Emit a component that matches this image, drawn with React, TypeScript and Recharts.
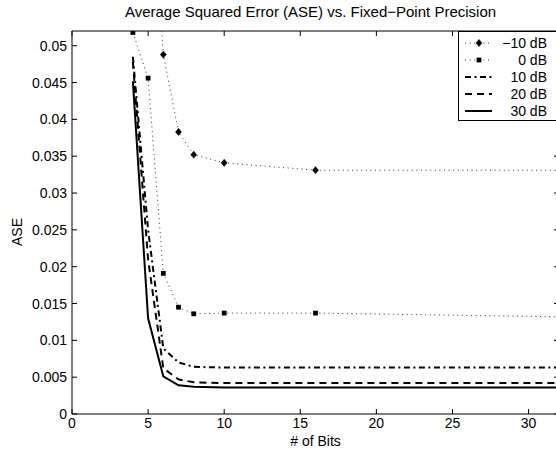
import React from 'react';
import { LineChart, Line, XAxis, YAxis, ReferenceLine } from 'recharts';

// ---- data ----
const bits = [4, 5, 6, 7, 8, 10, 16, 32];
const aseMinus10dB = [0.15, 0.078, 0.0488, 0.0383, 0.0352, 0.0341, 0.0331, 0.0331];
const ase0dB = [0.0518, 0.0456, 0.0191, 0.0145, 0.0136, 0.0137, 0.0137, 0.0132];
const ase10dB = [0.0485, 0.025, 0.0089, 0.007, 0.0064, 0.0063, 0.0063, 0.0063];
const ase20dB = [0.0478, 0.021, 0.0062, 0.0047, 0.0043, 0.0042, 0.0042, 0.0042];
const ase30dB = [0.0452, 0.013, 0.0051, 0.0039, 0.0037, 0.0036, 0.0036, 0.0036];
const seriesNames = ['\u221210 dB', '0 dB', '10 dB', '20 dB', '30 dB'];
const xTicks = [0, 5, 10, 15, 20, 25, 30];
const yTicks = [0, 0.005, 0.01, 0.015, 0.02, 0.025, 0.03, 0.035, 0.04, 0.045, 0.05];
const xDomain = [0, 32];
const yDomain = [0, 0.052];
const titleText = 'Average Squared Error (ASE) vs. Fixed\u2212Point Precision';
const xLabelText = '# of Bits';
const yLabelText = 'ASE';

const data = bits.map((b, i) => ({
  bits: b,
  s0: aseMinus10dB[i],
  s1: ase0dB[i],
  s2: ase10dB[i],
  s3: ase20dB[i],
  s4: ase30dB[i],
}));

// ---- layout ----
const FONT = '"Liberation Sans", Arial, Helvetica, sans-serif';
const FS = 14;
const CHART_W = 562;
const CHART_H = 450;
const PLOT_LEFT = 72;
const PLOT_RIGHT = 559;
const PLOT_TOP = 31;
const PLOT_BOTTOM = 414;
const TICK_LEN = 5;

const Diamond = (props: any) => {
  const { cx, cy, key } = props;
  if (cx == null || cy == null) return <g key={key} />;
  return (
    <path
      key={key}
      d={`M${cx},${cy - 3.6} L${cx + 3},${cy} L${cx},${cy + 3.6} L${cx - 3},${cy} Z`}
      fill="#000"
      stroke="#000"
      strokeWidth={0.5}
    />
  );
};

const Square = (props: any) => {
  const { cx, cy, key } = props;
  if (cx == null || cy == null) return <g key={key} />;
  return <rect key={key} x={cx - 2.4} y={cy - 2.4} width={4.8} height={4.8} fill="#000" />;
};

const XTick = (props: any) => {
  const { x, payload } = props;
  return (
    <g>
      <line x1={x} x2={x} y1={PLOT_BOTTOM} y2={PLOT_BOTTOM - TICK_LEN} stroke="#000" strokeWidth={1} />
      <line x1={x} x2={x} y1={PLOT_TOP} y2={PLOT_TOP + TICK_LEN} stroke="#000" strokeWidth={1} />
      <text x={x} y={PLOT_BOTTOM + 14} textAnchor="middle" fontFamily={FONT} fontSize={FS} fill="#000">
        {payload.value}
      </text>
    </g>
  );
};

const YTick = (props: any) => {
  const { y, payload } = props;
  return (
    <g>
      <line x1={PLOT_LEFT} x2={PLOT_LEFT + TICK_LEN} y1={y} y2={y} stroke="#000" strokeWidth={1} />
      <line x1={PLOT_RIGHT - TICK_LEN} x2={PLOT_RIGHT} y1={y} y2={y} stroke="#000" strokeWidth={1} />
      <text x={PLOT_LEFT - 5} y={y + 5} textAnchor="end" fontFamily={FONT} fontSize={FS} fill="#000">
        {String(payload.value)}
      </text>
    </g>
  );
};

const seriesStyles = [
  { key: 's0', stroke: '#333', width: 1, dash: '1 3.6', dot: 'diamond' },
  { key: 's1', stroke: '#333', width: 1, dash: '1 3.6', dot: 'square' },
  { key: 's2', stroke: '#000', width: 2, dash: '6 3.5 2 3.5', dot: null },
  { key: 's3', stroke: '#000', width: 2, dash: '7 5', dot: null },
  { key: 's4', stroke: '#000', width: 2, dash: undefined, dot: null },
];

const LEG_LEFT = 458;
const LEG_TOP = 31;

const LegendBox = () => {
  const rowY = [43, 60, 77, 94, 111];
  return (
    <svg
      width={110}
      height={92}
      style={{ position: 'absolute', left: LEG_LEFT, top: LEG_TOP, display: 'block', overflow: 'visible' }}
    >
      <rect x={0.5} y={0.5} width={108} height={89} fill="#fff" stroke="#000" strokeWidth={1} />
      {seriesNames.map((name, i) => {
        const st = seriesStyles[i];
        const y = rowY[i] - LEG_TOP;
        return (
          <g key={name}>
            <line
              x1={7}
              x2={34}
              y1={y}
              y2={y}
              stroke={st.stroke}
              strokeWidth={st.width}
              strokeDasharray={st.dash}
            />
            {st.dot === 'diamond' && Diamond({ cx: 21, cy: y, key: 'd' })}
            {st.dot === 'square' && Square({ cx: 21, cy: y, key: 'q' })}
            <text x={89} y={y + 5} textAnchor="end" fontFamily={FONT} fontSize={FS} fill="#000">
              {name}
            </text>
          </g>
        );
      })}
    </svg>
  );
};

export default function App() {
  return (
    <div
      style={{
        position: 'absolute',
        left: 0,
        top: 0,
        width: 556,
        height: 450,
        overflow: 'hidden',
        background: '#fff',
        fontFamily: FONT,
      }}
    >
      <div
        style={{
          position: 'absolute',
          left: (PLOT_LEFT + PLOT_RIGHT) / 2 - 5,
          top: 3,
          transform: 'translateX(-50%)',
          whiteSpace: 'nowrap',
          fontSize: 15,
          color: '#000',
          zIndex: 2,
        }}
      >
        {titleText}
      </div>
      <LineChart
        width={CHART_W}
        height={CHART_H}
        data={data}
        margin={{ top: PLOT_TOP, right: CHART_W - PLOT_RIGHT, bottom: 0, left: 0 }}
      >
        <XAxis
          dataKey="bits"
          type="number"
          domain={xDomain}
          ticks={xTicks}
          allowDataOverflow
          height={CHART_H - PLOT_BOTTOM}
          tickLine={false}
          tickSize={0}
          tick={<XTick />}
          axisLine={{ stroke: '#000', strokeWidth: 1 }}
          interval={0}
          label={{
            content: () => (
              <text x={(PLOT_LEFT + PLOT_RIGHT) / 2} y={446} textAnchor="middle" fontFamily={FONT} fontSize={FS} fill="#000">
                {xLabelText}
              </text>
            ),
          }}
        />
        <YAxis
          type="number"
          domain={yDomain}
          ticks={yTicks}
          allowDataOverflow
          width={PLOT_LEFT}
          tickLine={false}
          tickSize={0}
          tick={<YTick />}
          axisLine={{ stroke: '#000', strokeWidth: 1 }}
          interval={0}
          label={{
            content: () => (
              <text
                x={22}
                y={232}
                textAnchor="middle"
                fontFamily={FONT}
                fontSize={FS}
                fill="#000"
                transform="rotate(-90 22 232)"
              >
                {yLabelText}
              </text>
            ),
          }}
        />
        <ReferenceLine y={yDomain[1]} stroke="#000" strokeWidth={1} />
        <ReferenceLine x={xDomain[1]} stroke="#000" strokeWidth={1} />
        {seriesStyles.map((st, i) => (
          <Line
            key={st.key}
            dataKey={st.key}
            name={seriesNames[i]}
            type="linear"
            stroke={st.stroke}
            strokeWidth={st.width}
            strokeDasharray={st.dash}
            isAnimationActive={false}
            dot={st.dot === 'diamond' ? Diamond : st.dot === 'square' ? Square : false}
            activeDot={false}
            legendType="none"
          />
        ))}
      </LineChart>
      <LegendBox />
    </div>
  );
}
